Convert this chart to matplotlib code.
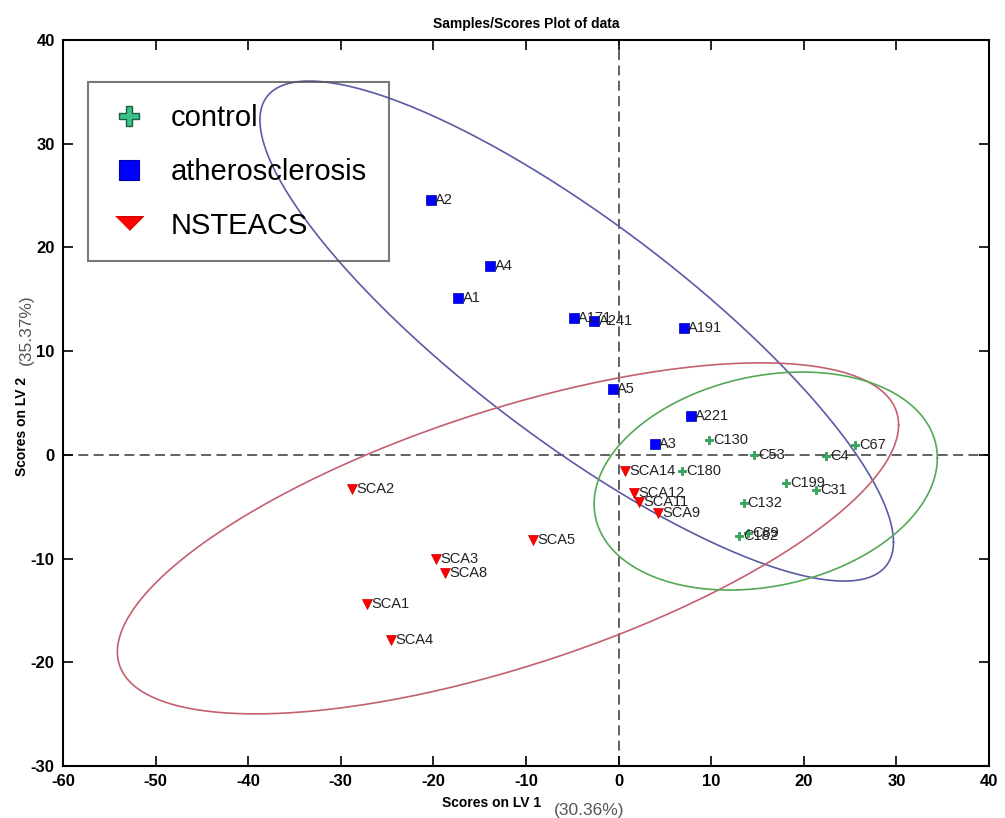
import numpy as np
import matplotlib
matplotlib.use("Agg")
import matplotlib.pyplot as plt
from matplotlib.lines import Line2D

plt.rcParams['font.family'] = ['Liberation Sans', 'DejaVu Sans']
plt.rcParams['axes.unicode_minus'] = False

# scores on LV1 / LV2
ctrl_names = ['C130', 'C53', 'C4', 'C67', 'C180', 'C199', 'C31', 'C132', 'C89', 'C182']
ctrl_x = [9.75, 14.6, 22.4, 25.5, 6.85, 18.1, 21.3, 13.5, 13.96, 13.0]
ctrl_y = [1.45, 0.0, -0.1, 0.95, -1.55, -2.7, -3.4, -4.6, -7.5, -7.8]

ath_names = ['A2', 'A4', 'A1', 'A171', 'A241', 'A191', 'A5', 'A221', 'A3']
ath_x = [-20.3, -13.85, -17.3, -4.8, -2.6, 7.06, -0.6, 7.8, 3.9]
ath_y = [24.6, 18.2, 15.1, 13.2, 12.9, 12.25, 6.4, 3.75, 1.05]

sca_names = ['SCA14', 'SCA12', 'SCA11', 'SCA9', 'SCA2', 'SCA5', 'SCA3', 'SCA8', 'SCA1', 'SCA4']
sca_x = [0.7, 1.67, 2.2, 4.26, -28.8, -9.2, -19.7, -18.75, -27.2, -24.6]
sca_y = [-1.55, -3.66, -4.5, -5.6, -3.3, -8.2, -10.0, -11.4, -14.4, -17.9]

# confidence ellipse shape matrices (LV1/LV2 units)
ctrl_shape = [[343.5, 41.1], [41.1, 110.5]]
ath_shape = [[1170.5, -696.2], [-696.2, 581.2]]
sca_shape = [[1779.8, 461.8], [461.8, 286.4]]

x_ticks = [-60, -50, -40, -30, -20, -10, 0, 10, 20, 30, 40]
y_ticks = [-30, -20, -10, 0, 10, 20, 30, 40]

fig = plt.figure(figsize=(10.05, 8.18), dpi=100)
ax = fig.add_axes([0.0627, 0.0636, 0.9213, 0.8874])


def draw_ellipse(xs, ys, shape, color):
    c = np.array([np.mean(xs), np.mean(ys)])
    L = np.linalg.cholesky(np.array(shape))
    t = np.linspace(0, 2 * np.pi, 400)
    pts = c[:, None] + L @ np.vstack([np.cos(t), np.sin(t)])
    ax.plot(pts[0], pts[1], color=color, lw=1.2, zorder=2)


ax.axhline(0, color='#555555', lw=1.3, ls=(0, (5.5, 3)), zorder=1)
ax.axvline(0, color='#555555', lw=1.3, ls=(0, (5.5, 3)), zorder=1)

draw_ellipse(ath_x, ath_y, ath_shape, '#5a5aa6')
draw_ellipse(sca_x, sca_y, sca_shape, '#c4606e')
draw_ellipse(ctrl_x, ctrl_y, ctrl_shape, '#55a855')

ax.plot(ctrl_x, ctrl_y, ls='none', marker='P', ms=5.5, color='#2fae5a', mec='#2a8a4a', mew=0.5, zorder=4)
ax.plot(ath_x, ath_y, ls='none', marker='s', ms=7, color='#0000ff', mec='#0000aa', mew=0.5, zorder=4)
ax.plot(sca_x, sca_y, ls='none', marker='v', ms=7.5, color='#ff0000', mec='#cc0000', mew=0.5, zorder=4)

for names, xs, ys in [(ctrl_names, ctrl_x, ctrl_y), (ath_names, ath_x, ath_y), (sca_names, sca_x, sca_y)]:
    for n, x, y in zip(names, xs, ys):
        ax.annotate(n, (x, y), xytext=(3, 0), textcoords='offset points',
                    ha='left', va='center', fontsize=10.5, color='#222222', zorder=5)

ax.set_xlim(-60, 40)
ax.set_ylim(-30, 40)
ax.set_xticks(x_ticks)
ax.set_yticks(y_ticks)
ax.tick_params(direction='in', length=7, width=1.2, top=True, right=True,
               labelsize=12, pad=6)
for lab in ax.get_xticklabels() + ax.get_yticklabels():
    lab.set_fontweight('bold')
for s in ax.spines.values():
    s.set_linewidth(1.5)

ax.set_title('Samples/Scores Plot of data', fontsize=10, fontweight='bold', pad=9)

fig.text(0.489, 0.018, 'Scores on LV 1', ha='center', va='center', fontsize=10, fontweight='bold')
fig.text(0.586, 0.009, '(30.36%)', ha='center', va='center', fontsize=12.5, color='#555555')
fig.text(0.022, 0.478, 'Scores on LV 2', ha='center', va='center', rotation=90, fontsize=10, fontweight='bold')
fig.text(0.026, 0.597, '(35.37%)', ha='center', va='center', rotation=90, fontsize=12.5, color='#555555')

tri = [(-1, 0.5), (1, 0.5), (0, -0.5)]
handles = [
    Line2D([], [], ls='none', marker='P', ms=15, color='#3cc08a', mec='#1a6040', mew=1),
    Line2D([], [], ls='none', marker='s', ms=14, color='#0000ff', mec='#0000aa', mew=0.8),
    Line2D([], [], ls='none', marker=tri, ms=20, color='#ff0000', mec='#cc0000', mew=0.8),
]
leg = ax.legend(handles, ['control', 'atherosclerosis', 'NSTEACS'], loc='upper left',
                bbox_to_anchor=(0.027, 0.942), borderaxespad=0, fontsize=21,
                borderpad=0.74, labelspacing=0.89, handlelength=1.3, handletextpad=0.8,
                fancybox=False, facecolor='none', edgecolor='#555555')
leg.get_frame().set_linewidth(1.5)

fig.savefig('out.png', dpi=100)
